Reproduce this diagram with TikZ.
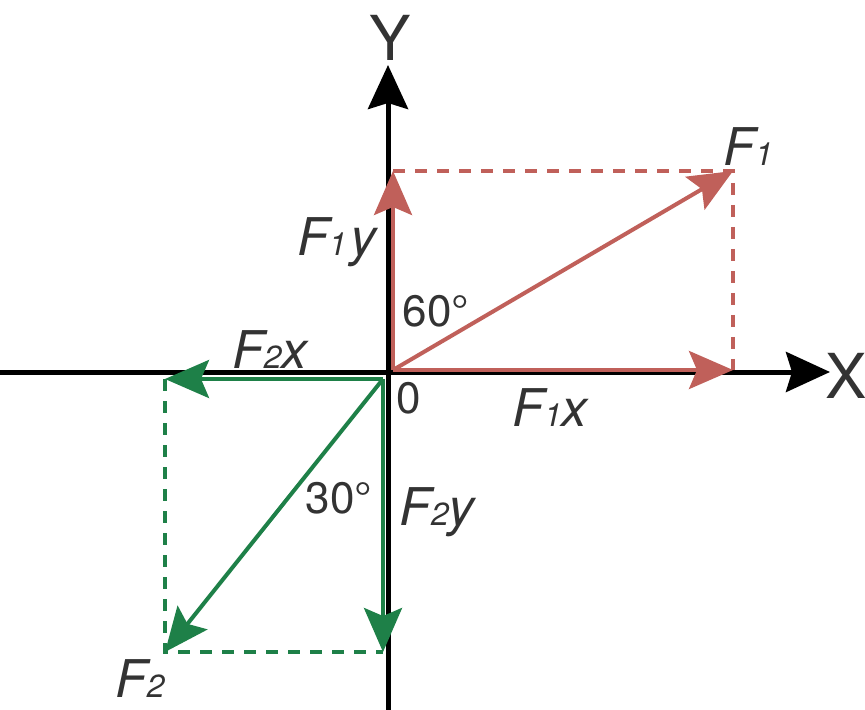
\documentclass[tikz,border=0pt]{standalone}
\usepackage{fontspec}
\setmainfont{TeX Gyre Heros}
\usetikzlibrary{arrows.meta}
\definecolor{forcered}{HTML}{C0605A}
\definecolor{forcegreen}{HTML}{1E8048}
\definecolor{labelgray}{HTML}{333333}
\tikzset{
  axisline/.style={line width=2.5pt,-{Stealth[length=22pt,width=20pt,inset=3pt]}},
  forcevec/.style={line width=2pt,-{Stealth[length=22pt,width=19pt,inset=4pt]}},
  helpline/.style={line width=2.2pt,dash pattern=on 6pt off 5pt},
  flabel/.style={text=labelgray,inner sep=0pt,font=\fontsize{26}{30}\selectfont\itshape},
  alabel/.style={text=labelgray,inner sep=0pt,font=\fontsize{22}{26}\selectfont},
  xylabel/.style={text=labelgray,inner sep=0pt,font=\fontsize{31}{36}\selectfont}
}
\newcommand{\idx}[1]{{\fontsize{16}{18}\selectfont #1}}
\begin{document}
\begin{tikzpicture}[x=0.5pt,y=-0.5pt]
\useasboundingbox (0,0) rectangle (865,710);
% axes
\coordinate (xl) at (0,372);
\coordinate (xr) at (830,372);
\coordinate (yb) at (388,710);
\coordinate (yt) at (388,65);
\draw[axisline] (xl) -- (xr);
\draw[axisline] (yb) -- (yt);
\node[xylabel] (ylab) at (390,38) {Y};
\node[xylabel] (xlab) at (846,376) {X};
% F1
\coordinate (o1) at (393,370);
\coordinate (f1) at (733,171);
\coordinate (f1x) at (733,370);
\coordinate (f1y) at (393,171);
\draw[helpline,forcered] (f1y) -- (f1) -- (f1x);
\draw[forcevec,forcered] (o1) -- (f1x);
\draw[forcevec,forcered] (o1) -- (f1y);
\draw[forcevec,forcered] (o1) -- (f1);
% F2
\coordinate (o2) at (383,379);
\coordinate (f2) at (165,652);
\coordinate (f2x) at (165,379);
\coordinate (f2y) at (383,652);
\draw[helpline,forcegreen] (f2x) -- (f2) -- (f2y);
\draw[forcevec,forcegreen] (o2) -- (f2x);
\draw[forcevec,forcegreen] (o2) -- (f2y);
\draw[forcevec,forcegreen] (o2) -- (f2);
% labels
\node[flabel] (lf1) at (748,147) {F\idx{1}};
\node[flabel] (lf1y) at (337,242) {F\idx{1}\kern2pt y};
\node[flabel] (lf1x) at (550,408) {F\idx{1}x};
\node[flabel] (lf2) at (140,679) {F\idx{2}};
\node[flabel] (lf2x) at (270,350) {F\idx{2}x};
\node[flabel] (lf2y) at (437,512) {F\idx{2}y};
\node[alabel] (a60) at (436,311) {60°};
\node[alabel] (a30) at (339,498) {30°};
\node[alabel] (zero) at (409,398) {0};
\end{tikzpicture}
\end{document}
